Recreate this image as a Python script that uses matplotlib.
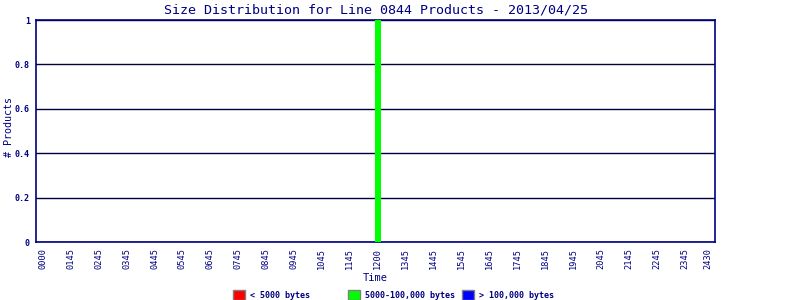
import numpy as np
import matplotlib.pyplot as plt
from matplotlib.patches import Rectangle

times = ['0000', '0145', '0245', '0345', '0445', '0545', '0645', '0745', '0845',
         '0945', '1045', '1145', '1200', '1345', '1445', '1545', '1645', '1745',
         '1845', '1945', '2045', '2145', '2245', '2345', '2430']
small = [0] * 25
medium = [0] * 12 + [1] + [0] * 12
large = [0] * 25

legend_labels = ['< 5000 bytes', '5000-100,000 bytes', '> 100,000 bytes']
legend_colors = ['#ff0000', '#00ff00', '#0000ff']

navy = '#000080'
mono = 'DejaVu Sans Mono'

fig = plt.figure(figsize=(8, 3), dpi=100)
ax = fig.add_axes([0.045, 0.193, 0.849, 0.74])

x = np.arange(len(times), dtype=float)
x[-1] = 23.85  # last label sits closer to 2345
w = 0.21
ax.bar(x, small, width=w, color=legend_colors[0], zorder=3)
ax.bar(x, medium, width=w, bottom=small, color=legend_colors[1], zorder=3)
ax.bar(x, large, width=w, bottom=np.array(small) + np.array(medium),
       color=legend_colors[2], zorder=3)

ax.set_xlim(-0.25, 24.1)
ax.set_ylim(0, 1)
ax.set_xticks(x)
ax.set_xticklabels(times, rotation=90, fontsize=6.2, family=mono, color=navy)
ax.set_yticks([0, 0.2, 0.4, 0.6, 0.8, 1])
ax.set_yticklabels(['0', '0.2', '0.4', '0.6', '0.8', '1'], fontsize=6, family=mono,
                   color=navy, fontweight='bold')
ax.tick_params(axis='x', length=0, pad=4)
ax.tick_params(axis='y', length=0, pad=4.5)
ax.yaxis.grid(True, color='#000040', linewidth=1, zorder=1)
for s in ax.spines.values():
    s.set_color(navy)
    s.set_linewidth(1.2)

ax.set_title('Size Distribution for Line 0844 Products - 2013/04/25', family=mono,
             color=navy, fontsize=9.6, pad=5)
ax.set_xlabel('Time', family=mono, color=navy, fontsize=7.5, labelpad=3)
fig.text(0.011, 0.577, '# Products', rotation=90, family=mono, color=navy,
         fontsize=7.2, ha='center', va='center')

# legend row at the bottom, fixed slots like the original chart
slots = [0.291, 0.435, 0.578]
for xs, lab, col in zip(slots, legend_labels, legend_colors):
    fig.patches.append(Rectangle((xs, 0.0), 0.015, 0.033, transform=fig.transFigure,
                                 facecolor=col, edgecolor='#808080', linewidth=1))
    fig.text(xs + 0.021, 0.016, lab, family=mono, color=navy, fontsize=6,
             fontweight='bold', ha='left', va='center')

fig.savefig('out.png', dpi=100)
